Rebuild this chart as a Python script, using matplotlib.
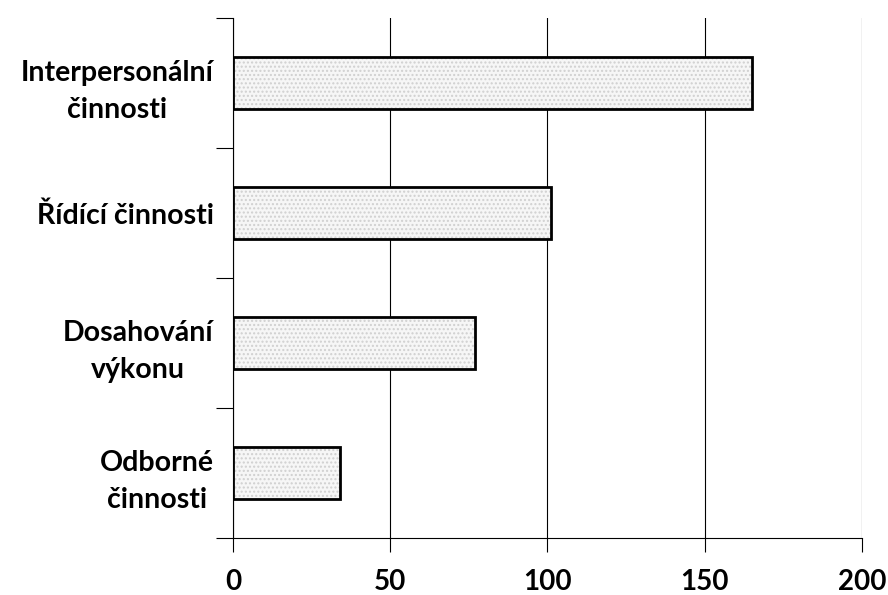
import matplotlib.pyplot as plt
import numpy as np

# data (top to bottom)
categories = ["Interpersonální\nčinnosti", "Řídící činnosti", "Dosahování\nvýkonu", "Odborné\nčinnosti"]
values = [165, 101, 77, 34]
xticks = [0, 50, 100, 150, 200]

plt.rcParams['font.family'] = ['Lato', 'DejaVu Sans']

fig = plt.figure(figsize=(8.88, 5.95), dpi=100)
ax = fig.add_axes([0.2624, 0.0958, 0.7083, 0.8739])

n = len(categories)
ypos = np.arange(n)[::-1]

# speckled light-grey fill, then a black outline on top
ax.barh(ypos, values, height=0.4, color='#f6f6f6', edgecolor='#d0d0d0',
        hatch='....', linewidth=0, zorder=2)
ax.barh(ypos, values, height=0.4, fill=False, edgecolor='black',
        linewidth=2, zorder=3)

ax.set_xlim(0, 200)
ax.set_ylim(-0.5, n - 0.5)

# vertical gridlines
ax.set_xticks(xticks)
ax.xaxis.grid(True, color='black', linewidth=0.8, zorder=1)
ax.set_axisbelow(True)

# category boundary ticks on the left, labels at the bar centres
ax.set_yticks(np.arange(n + 1) - 0.5)
ax.set_yticklabels([])
ax.set_yticks(ypos, minor=True)
ax.set_yticklabels(categories, minor=True, fontsize=20.5, fontweight='bold',
                   multialignment='center', linespacing=1.55)
ax.tick_params(axis='y', which='major', direction='out', length=12, width=0.8)
ax.tick_params(axis='y', which='minor', length=0, pad=14)

ax.set_xticklabels([str(t) for t in xticks], fontsize=20, fontweight='bold')
ax.tick_params(axis='x', direction='out', length=10, width=0.8, pad=12)

for side in ['top', 'right']:
    ax.spines[side].set_visible(False)
for side in ['left', 'bottom']:
    ax.spines[side].set_linewidth(0.8)

fig.savefig('out.png', dpi=100)
